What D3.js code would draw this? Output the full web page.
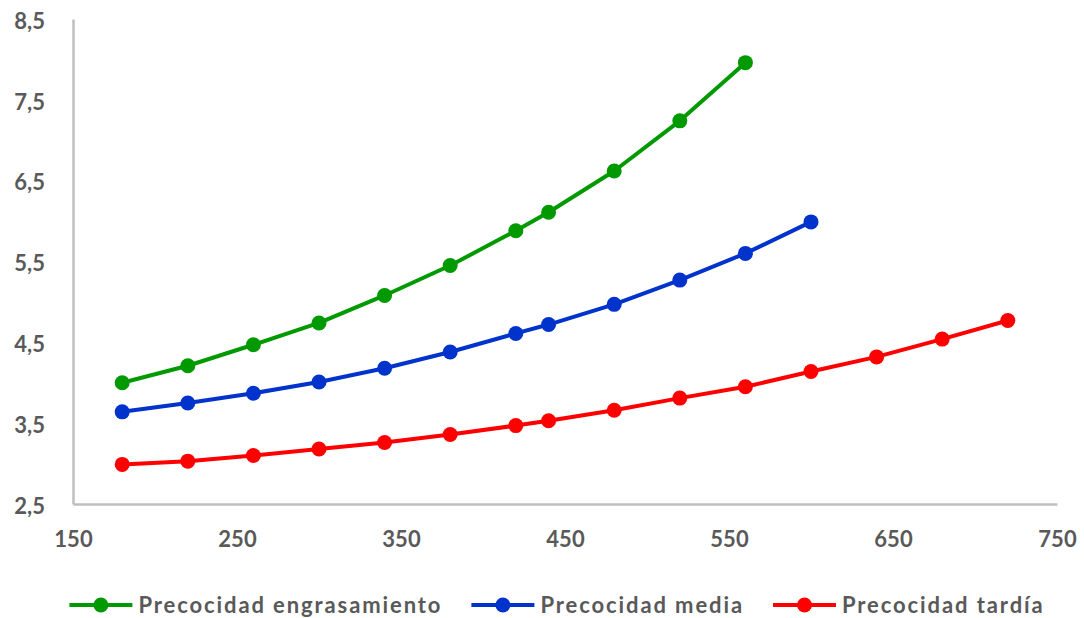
<!DOCTYPE html>
<html>
<head>
<meta charset="utf-8">
<script src="https://cdn.jsdelivr.net/npm/d3@7"></script>
<style>
  html, body { margin: 0; padding: 0; background: #ffffff; }
  svg { display: block; }
</style>
</head>
<body>
<svg id="chart" width="1084" height="618"></svg>
<script>
// Weight (x) and daily requirement (y) for three precocity classes
const pesos = [180, 220, 260, 300, 340, 380, 420, 440, 480, 520, 560, 600, 640, 680, 720];

const engrasamiento = [4.00, 4.21, 4.47, 4.74, 5.08, 5.45, 5.88, 6.11, 6.62, 7.24, 7.96];
const media = [3.64, 3.75, 3.87, 4.01, 4.18, 4.38, 4.61, 4.72, 4.97, 5.27, 5.60, 5.99];
const tardia = [2.99, 3.03, 3.10, 3.18, 3.26, 3.36, 3.47, 3.53, 3.66, 3.81, 3.95, 4.14, 4.32, 4.54, 4.77];

const seriesNames = ["Precocidad engrasamiento", "Precocidad media", "Precocidad tardía"];
const seriesColors = ["#009900", "#0033cc", "#ff0000"];

const xTicks = [150, 250, 350, 450, 550, 650, 750];
const yTicks = [2.5, 3.5, 4.5, 5.5, 6.5, 7.5, 8.5];

const series = [engrasamiento, media, tardia].map((vals, i) => ({
  name: seriesNames[i],
  color: seriesColors[i],
  points: vals.map((v, j) => ({ x: pesos[j], y: v }))
}));

const svg = d3.select("#chart");
const FONT = "Lato, 'Open Sans', sans-serif";
const TEXT = "#595959";

const x = d3.scaleLinear().domain([150, 750]).range([73, 1057]);
const y = d3.scaleLinear().domain([2.5, 8.5]).range([504, 19]);

const fmt = d => String(d).replace(".", ",");

// Y axis
const yAxis = svg.append("g")
  .attr("transform", `translate(${x(150)},0)`)
  .call(d3.axisLeft(y).tickValues(yTicks).tickSize(0).tickSizeOuter(0).tickPadding(28).tickFormat(fmt));

// X axis
const xAxis = svg.append("g")
  .attr("transform", `translate(0,${y(2.5)})`)
  .call(d3.axisBottom(x).tickValues(xTicks).tickSize(0).tickSizeOuter(0).tickPadding(27).tickFormat(d => d));

[yAxis, xAxis].forEach(g => {
  g.select(".domain").attr("stroke", "#bfbfbf").attr("stroke-width", 2.5);
  g.selectAll("text")
    .attr("fill", TEXT)
    .style("font-family", FONT)
    .style("font-weight", "bold")
    .style("font-size", "22px");
});
yAxis.selectAll("text").attr("dy", "0.42em");

// Lines and markers
const line = d3.line().x(d => x(d.x)).y(d => y(d.y));

const sg = svg.append("g").selectAll("g").data(series).join("g");
sg.append("path")
  .attr("d", d => line(d.points))
  .attr("fill", "none")
  .attr("stroke", d => d.color)
  .attr("stroke-width", 4)
  .attr("stroke-linejoin", "round");
sg.selectAll("circle")
  .data(d => d.points.map(p => ({ ...p, color: d.color })))
  .join("circle")
  .attr("cx", d => x(d.x))
  .attr("cy", d => y(d.y))
  .attr("r", 7.5)
  .attr("fill", d => d.color);

// Legend
const legend = svg.append("g").attr("transform", "translate(0,605)");
const sampleW = 63, textGap = 6, itemGap = 29;
const items = legend.selectAll("g").data(series).join("g");
items.append("line")
  .attr("x1", 0).attr("x2", sampleW)
  .attr("y1", 0).attr("y2", 0)
  .attr("stroke", d => d.color).attr("stroke-width", 4);
items.append("circle")
  .attr("cx", sampleW / 2).attr("cy", 0).attr("r", 7.5)
  .attr("fill", d => d.color);
items.append("text")
  .attr("x", sampleW + textGap)
  .attr("y", 0)
  .attr("dy", "0.36em")
  .attr("fill", TEXT)
  .style("font-family", FONT)
  .style("font-weight", "bold")
  .style("font-size", "22px")
  .style("letter-spacing", "1.9px")
  .text(d => d.name);

const widths = [];
items.each(function () { widths.push(this.getBBox().width); });
const total = d3.sum(widths) + itemGap * (widths.length - 1);
let cursor = 557 - total / 2;
items.attr("transform", (d, i) => {
  const t = `translate(${cursor},0)`;
  cursor += widths[i] + itemGap;
  return t;
});
</script>
</body>
</html>
